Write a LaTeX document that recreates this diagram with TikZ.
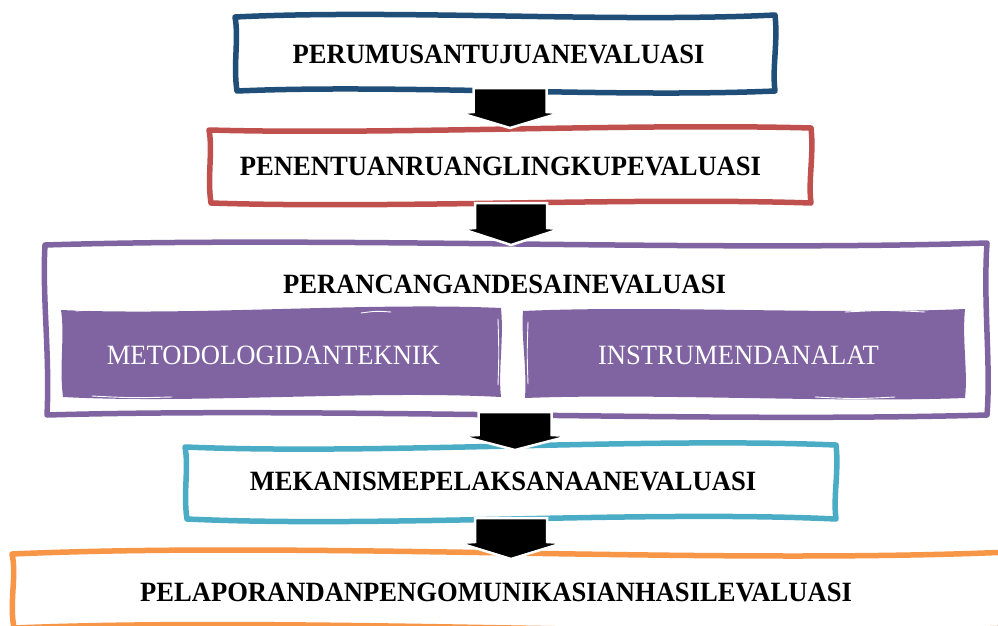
\documentclass[tikz,border=0pt]{standalone}
\usepackage{fontspec}
\setmainfont{Liberation Serif}
\usetikzlibrary{calc}
\definecolor{cblue}{HTML}{1F4E79}
\definecolor{cred}{HTML}{C0504D}
\definecolor{cpurple}{HTML}{8064A2}
\definecolor{ccyan}{HTML}{4BACC6}
\definecolor{corange}{HTML}{F79646}
% sketchy rectangle around a named node: #1 node, #2 style, #3 horizontal wave, #4 vertical wave
\newcommand\sketchrect[4]{%
  \path[#2] ($(#1.north west)+(-1,1)$)
    .. controls ($(#1.north west)!0.3!(#1.north east)+(0,{-1*(#3)})$) and ($(#1.north west)!0.7!(#1.north east)+(0,{#3})$) .. ($(#1.north east)+(0,-1)$)
    .. controls ($(#1.north east)!0.35!(#1.south east)+({#4},0)$) and ($(#1.north east)!0.7!(#1.south east)+({-1*(#4)},0)$) .. ($(#1.south east)+(0,0)$)
    .. controls ($(#1.south east)!0.3!(#1.south west)+(0,{#3})$) and ($(#1.south east)!0.7!(#1.south west)+(0,{-1*(#3)})$) .. ($(#1.south west)+(1,0)$)
    .. controls ($(#1.south west)!0.35!(#1.north west)+({-1*(#4)},0)$) and ($(#1.south west)!0.7!(#1.north west)+({#4},0)$) .. ($(#1.north west)+(-1,1)$)
    -- cycle;}
% block arrow: #1 top centre, #2 tip, #3 half shaft, #4 half head, #5 head length
\newcommand\blockarrow[5]{%
  \path[blockarrowstyle] ($(#1)+(-#3,0)$) -- ($(#1)+(#3,0)$) -- ($(#2)+(#3,-#5)$) -- ($(#2)+(#4,-#5+1)$)
    -- (#2) -- ($(#2)+(-#4,-#5+1)$) -- ($(#2)+(-#3,-#5)$) -- cycle;}
\newcommand\tallt[1]{\scalebox{1}[1.05]{#1}}
\begin{document}
\begin{tikzpicture}[x=1pt,y=-1pt,
  area/.style={draw=none,inner sep=0pt,outer sep=0pt},
  title/.style={inner sep=0pt,font=\fontsize{26.6}{30}\selectfont\bfseries},
  subtitle/.style={inner sep=0pt,text=white,font=\fontsize{26.6}{30}\selectfont},
  outline/.style={draw=#1,line width=5.5pt,line join=round,line cap=round},
  solid/.style={fill=#1},
  streak/.style={draw=white,line width=0.9pt,line cap=round},
  blockarrowstyle/.style={fill=black,draw=white,line width=2.5pt,line join=miter}]
\clip (0,0) rectangle (998,626);
\fill[white] (0,0) rectangle (998,626);

% boxes
\node[area,minimum width=539pt,minimum height=75pt] (b1) at (505.5,53.5) {};
\node[area,minimum width=601pt,minimum height=74pt] (b2) at (510.5,166) {};
\node[area,minimum width=941pt,minimum height=171pt] (b3) at (516.5,329.5) {};
\node[area,minimum width=439pt,minimum height=88pt] (i1) at (281.5,353) {};
\node[area,minimum width=441pt,minimum height=88pt] (i2) at (744.5,354) {};
\node[area,minimum width=650pt,minimum height=73pt] (b4) at (511,482.5) {};
\node[area,minimum width=997pt,minimum height=75pt] (b5) at (511.5,590.5) {};

\sketchrect{b1}{outline=cblue}{7}{3}
\sketchrect{b2}{outline=cred}{-6}{3}
\sketchrect{b3}{outline=cpurple}{8}{-4}
\sketchrect{i1}{solid=cpurple}{-7}{3}
\sketchrect{i2}{solid=cpurple}{5}{-3}
\sketchrect{b4}{outline=ccyan}{-9}{3}
\sketchrect{b5}{outline=corange}{12}{4}

% streaks on the filled boxes
\draw[streak] ($(i1.north west)+(14,2)$) .. controls ($(i1.north west)+(50,-1)$) .. ($(i1.north west)+(95,1)$);
\draw[streak] ($(i1.north east)+(-140,4)$) .. controls ($(i1.north east)+(-125,2)$) .. ($(i1.north east)+(-110,3)$);
\draw[streak] ($(i1.south west)+(30,-1)$) .. controls ($(i1.south west)+(70,1)$) .. ($(i1.south west)+(110,0)$);
\draw[streak] ($(i1.north east)+(-3,10)$) .. controls ($(i1.east)+(-2,0)$) .. ($(i1.south east)+(-3,-12)$);
\draw[streak] ($(i2.north west)+(4,12)$) .. controls ($(i2.west)+(3,0)$) .. ($(i2.south west)+(4,-14)$);
\draw[streak] ($(i2.north east)+(-120,2)$) .. controls ($(i2.north east)+(-80,0)$) .. ($(i2.north east)+(-40,2)$);
\draw[streak] ($(i2.south east)+(-150,-1)$) .. controls ($(i2.south east)+(-110,1)$) .. ($(i2.south east)+(-70,-1)$);

% texts
\node[title] (t1) at ($(b1.center)+(-7,0.5)$) {\tallt{PERUMUSANTUJUANEVALUASI}};
\node[title] (t2) at ($(b2.center)+(-10,0)$) {\tallt{PENENTUANRUANGLINGKUPEVALUASI}};
\node[title] (t3) at ($(b3.north)+(-12,40)$) {\tallt{PERANCANGANDESAINEVALUASI}};
\node[subtitle] (t31) at ($(i1.center)+(-8,2)$) {\tallt{METODOLOGIDANTEKNIK}};
\node[subtitle] (t32) at ($(i2.center)+(-6,1)$) {\tallt{INSTRUMENDANALAT}};
\node[title] (t4) at ($(b4.center)+(-8,-1.5)$) {\tallt{MEKANISMEPELAKSANAANEVALUASI}};
\node[title] (t5) at ($(b5.center)+(-15.5,1.5)$) {\tallt{PELAPORANDANPENGOMUNIKASIANHASILEVALUASI}};

% block arrows
\coordinate (a1s) at ($(b1.south)+(4.5,-3)$);
\coordinate (a1t) at ($(a1s |- b2.north)+(0,-1)$);
\blockarrow{a1s}{a1t}{36.5}{50}{16}
\coordinate (a2s) at ($(b2.south)+(0.5,0)$);
\coordinate (a2t) at ($(a2s |- b3.north)+(0,1)$);
\blockarrow{a2s}{a2t}{36}{49}{17}
\coordinate (a3s) at ($(b3.south -| b4.north)+(4,-3)$);
\coordinate (a3t) at ($(a3s |- b4.north)+(0,4)$);
\blockarrow{a3s}{a3t}{36.5}{54}{15}
\coordinate (a4s) at ($(b4.south)+(0,-1)$);
\coordinate (a4t) at ($(a4s |- b5.north)+(0,6)$);
\blockarrow{a4s}{a4t}{36}{52}{17}
\end{tikzpicture}
\end{document}
